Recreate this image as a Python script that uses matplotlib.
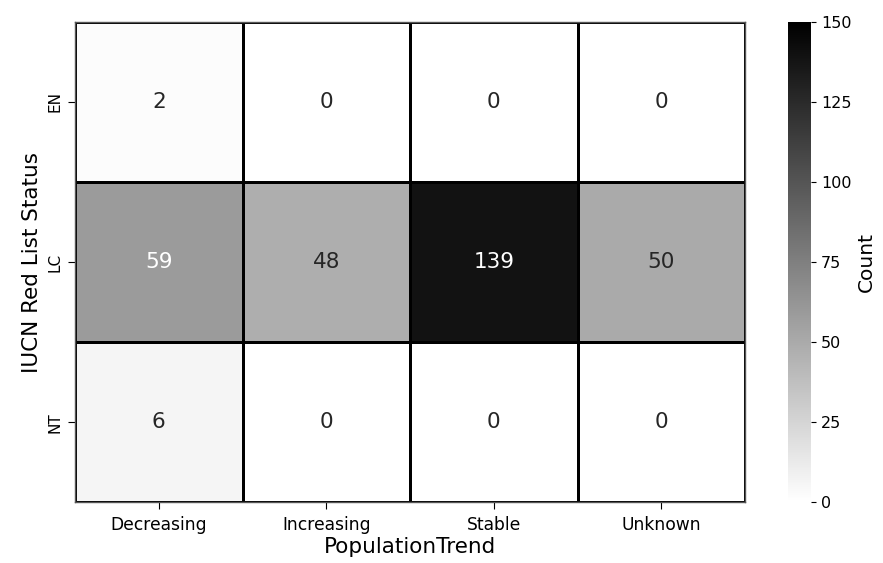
import numpy as np
import pandas as pd
import matplotlib
matplotlib.use("Agg")
import matplotlib.pyplot as plt
import seaborn as sns

trends = ['Decreasing', 'Increasing', 'Stable', 'Unknown']
statuses = ['EN', 'LC', 'NT']
counts_en = [2, 0, 0, 0]
counts_lc = [59, 48, 139, 50]
counts_nt = [6, 0, 0, 0]

table = pd.DataFrame([counts_en, counts_lc, counts_nt], index=statuses, columns=trends)

fig = plt.figure(figsize=(8.83, 5.63), dpi=100)
ax = fig.add_axes([0.085, 0.108, 0.759, 0.853])
cax = fig.add_axes([0.892, 0.108, 0.027, 0.853])

sns.heatmap(table, cmap='gray_r', vmin=0, vmax=150, annot=True, fmt='d',
            annot_kws={'fontsize': 15.5}, linewidths=0.8, linecolor='black',
            ax=ax, cbar_ax=cax, cbar_kws={'ticks': [0, 25, 50, 75, 100, 125, 150]})

# light cells keep dark text, as in the reference
for t in ax.texts:
    if int(t.get_text()) < 55:
        t.set_color('#262626')

for s in ax.spines.values():
    s.set_visible(True)
    s.set_color('#555555')
    s.set_linewidth(1)

ax.set_xlabel('PopulationTrend', fontsize=15.5, labelpad=2)
ax.set_ylabel('IUCN Red List Status', fontsize=15.5)
ax.tick_params(axis='x', labelsize=12.3, length=5, pad=5)
ax.tick_params(axis='y', labelsize=11, labelrotation=90, length=5, pad=4)
cax.set_ylabel('Count', fontsize=14.5)
cax.tick_params(labelsize=11.5)
cax.set_frame_on(False)

plt.savefig('out.png', dpi=100)
